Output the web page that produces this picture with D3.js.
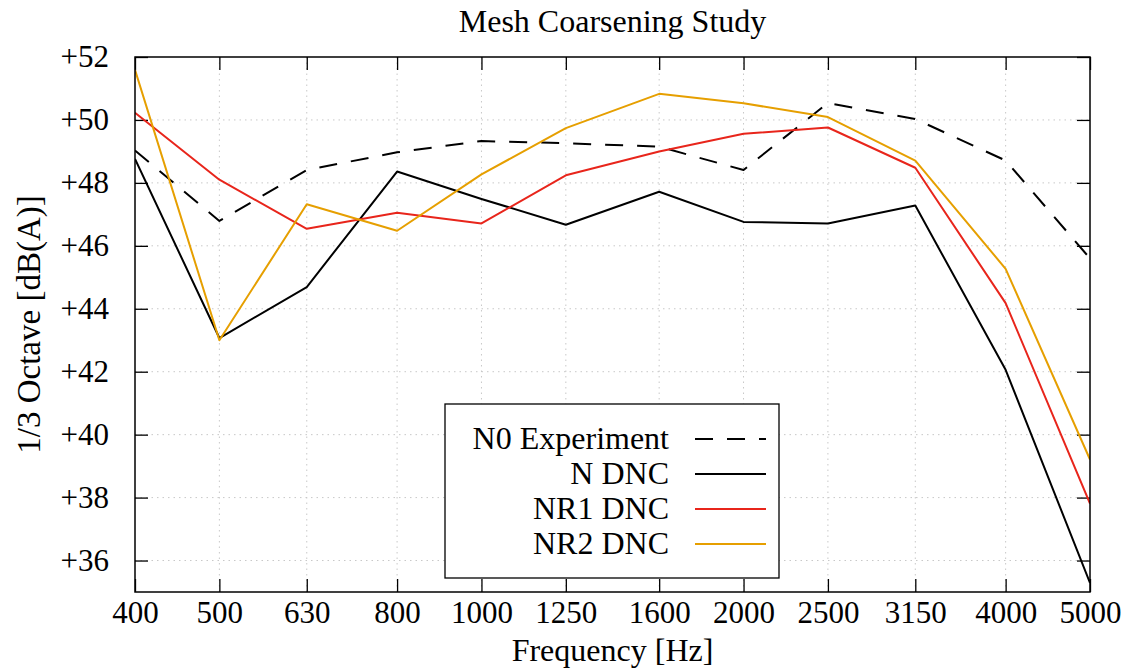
<!DOCTYPE html>
<html>
<head>
<meta charset="utf-8">
<script src="https://cdn.jsdelivr.net/npm/d3@7"></script>
<style>
  body { margin: 0; background: #fff; }
  text { font-family: "Liberation Serif", "DejaVu Serif", serif; fill: #000; }
</style>
</head>
<body>
<div id="chart"></div>
<script>
// data
const freqs = [400, 500, 630, 800, 1000, 1250, 1600, 2000, 2500, 3150, 4000, 5000];
const yTicks = [36, 38, 40, 42, 44, 46, 48, 50, 52];

const n0Experiment = [49.03, 46.79, 48.41, 48.97, 49.33, 49.26, 49.15, 48.41, 50.54, 50.03, 48.71, 45.6];
const nDnc        = [48.76, 43.07, 44.69, 48.36, 47.49, 46.67, 47.72, 46.76, 46.71, 47.28, 42.06, 35.29];
const nr1Dnc      = [50.23, 48.10, 46.54, 47.05, 46.71, 48.24, 49.00, 49.56, 49.76, 48.48, 44.18, 37.81];
const nr2Dnc      = [51.59, 43.00, 47.32, 46.48, 48.27, 49.74, 50.83, 50.53, 50.09, 48.71, 45.27, 39.21];

const seriesNames = ["N0 Experiment", "N DNC", "NR1 DNC", "NR2 DNC"];
const seriesColors = ["#000000", "#000000", "#e8251b", "#e69f00"];
const seriesDash = ["18,14", null, null, null];
const seriesValues = [n0Experiment, nDnc, nr1Dnc, nr2Dnc];

const width = 1128;
const height = 671;
const margin = { top: 57, right: 38, bottom: 79, left: 135 };
const plotW = width - margin.left - margin.right;
const plotH = height - margin.top - margin.bottom;

const svg = d3.select("#chart")
    .append("svg")
    .attr("width", width)
    .attr("height", height);

const x = d3.scaleLog().domain([400, 5000]).range([0, plotW]);
const y = d3.scaleLinear().domain([35, 52]).range([plotH, 0]);

const g = svg.append("g")
    .attr("transform", `translate(${margin.left},${margin.top})`);

// grid
g.append("g")
    .selectAll("line")
    .data(freqs.slice(1, -1))
    .enter()
    .append("line")
    .attr("x1", d => x(d)).attr("x2", d => x(d))
    .attr("y1", 0).attr("y2", plotH)
    .style("stroke", "#c8c8c8")
    .style("stroke-width", 1)
    .style("stroke-dasharray", "1.5,4");

g.append("g")
    .selectAll("line")
    .data(yTicks.slice(0, -1))
    .enter()
    .append("line")
    .attr("x1", 0).attr("x2", plotW)
    .attr("y1", d => y(d)).attr("y2", d => y(d))
    .style("stroke", "#c8c8c8")
    .style("stroke-width", 1)
    .style("stroke-dasharray", "1.5,4");

// axes, ticks pointing inward on all four sides
const tickLen = 13;
const xAxisB = d3.axisBottom(x).tickValues(freqs).tickSize(-tickLen).tickPadding(9).tickFormat(d3.format("d"));
const xAxisT = d3.axisTop(x).tickValues(freqs).tickSize(-tickLen).tickFormat("");
const yAxisL = d3.axisLeft(y).tickValues(yTicks).tickSize(-tickLen).tickPadding(26).tickFormat(d => "+" + d);
const yAxisR = d3.axisRight(y).tickValues(yTicks).tickSize(-tickLen).tickFormat("");

function styleAxis(sel) {
    sel.select(".domain").remove();
    sel.selectAll(".tick line").style("stroke", "#000").style("stroke-width", 1.3);
    sel.selectAll(".tick text").style("font-size", "31px").style("font-family", "'Liberation Serif', serif");
}

g.append("g").attr("transform", `translate(0,${plotH})`).call(xAxisB).call(styleAxis);
g.append("g").call(xAxisT).call(styleAxis);
g.append("g").call(yAxisL).call(styleAxis);
g.append("g").attr("transform", `translate(${plotW},0)`).call(yAxisR).call(styleAxis);

// lines
const line = d3.line()
    .x((d, i) => x(freqs[i]))
    .y(d => y(d));

svg.append("defs").append("clipPath").attr("id", "clip")
    .append("rect").attr("width", plotW).attr("height", plotH);

g.append("g")
    .attr("clip-path", "url(#clip)")
    .selectAll("path")
    .data(seriesValues)
    .enter()
    .append("path")
    .attr("d", d => line(d))
    .style("fill", "none")
    .style("stroke", (d, i) => seriesColors[i])
    .style("stroke-width", 2)
    .style("stroke-linejoin", "round")
    .style("stroke-dasharray", (d, i) => seriesDash[i]);

// frame
g.append("rect")
    .attr("width", plotW).attr("height", plotH)
    .style("fill", "none")
    .style("stroke", "#000")
    .style("stroke-width", 1.5);

// legend
const legend = svg.append("g").attr("transform", "translate(445,404)");
legend.append("rect")
    .attr("width", 334).attr("height", 174)
    .style("fill", "#fff")
    .style("stroke", "#000")
    .style("stroke-width", 1.3);

const item = legend.selectAll("g.item")
    .data(seriesNames)
    .enter()
    .append("g")
    .attr("class", "item")
    .attr("transform", (d, i) => `translate(0,${35 + i * 35})`);

item.append("text")
    .attr("x", 224)
    .attr("y", 10)
    .style("text-anchor", "end")
    .style("font-size", "32px")
    .text(d => d);

item.append("line")
    .attr("x1", 250).attr("x2", 321)
    .style("stroke", (d, i) => seriesColors[i])
    .style("stroke-width", 2)
    .style("stroke-dasharray", (d, i) => seriesDash[i]);

// titles
svg.append("text")
    .attr("x", margin.left + plotW / 2)
    .attr("y", 32)
    .style("text-anchor", "middle")
    .style("font-size", "32px")
    .text("Mesh Coarsening Study");

svg.append("text")
    .attr("x", margin.left + plotW / 2)
    .attr("y", 661)
    .style("text-anchor", "middle")
    .style("font-size", "32px")
    .text("Frequency [Hz]");

svg.append("text")
    .attr("transform", `translate(40,${margin.top + plotH / 2}) rotate(-90)`)
    .style("text-anchor", "middle")
    .style("font-size", "33px")
    .text("1/3 Octave [dB(A)]");
</script>
</body>
</html>
